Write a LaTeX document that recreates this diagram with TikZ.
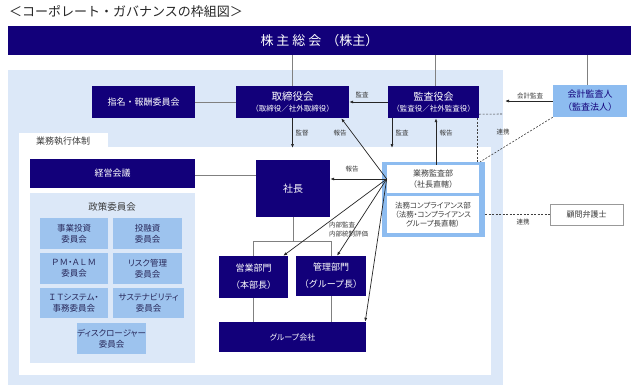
\documentclass[tikz,border=0pt]{standalone}
\usepackage{fontspec}
\setmainfont{Noto Sans CJK JP}
\newfontfamily\pf{Noto Sans CJK JP}[RawFeature=+palt]
\usetikzlibrary{arrows.meta}
\definecolor{navy}{RGB}{18,0,122}
\definecolor{lightbg}{RGB}{220,232,248}
\definecolor{comblue}{RGB}{157,195,238}
\definecolor{midblue}{RGB}{141,188,240}
\definecolor{comtext}{RGB}{40,40,90}
\definecolor{lblgray}{RGB}{60,60,60}
\tikzset{
  navybox/.style={fill=navy, text=white, inner sep=0pt, align=center},
  combox/.style={fill=comblue, text=comtext, inner sep=0pt, align=center, minimum height=31pt, font=\pf\fontsize{8.5}{11}\selectfont},
  whitebox/.style={fill=white, draw=gray!80, line width=0.6pt, text=lblgray, inner sep=0pt, align=center},
  lbl/.style={font=\fontsize{6.5}{8}\selectfont, text=lblgray, inner sep=0pt},
  gline/.style={draw=gray, line width=0.8pt},
  arr/.style={-{Latex[length=4pt,width=3pt]}, line width=0.7pt, draw=black!85},
  dline/.style={dashed, dash pattern=on 2pt off 1.5pt, draw=darkgray, line width=0.6pt},
}
\begin{document}
\begin{tikzpicture}[x=1pt,y=-1pt]
\useasboundingbox (0,0) rectangle (640,389);
% backgrounds
\fill[lightbg] (8,70) rectangle (503,385);
\fill[white] (19,133) rectangle (108,147);
\fill[white] (19,147) rectangle (491,375);
\node[font=\fontsize{9}{11}\selectfont, text=lblgray, inner sep=0pt] (gyomutai) at (63,141) {業務執行体制};
\fill[lightbg] (30,193) rectangle (195,363);
\node[font=\fontsize{9.5}{11}\selectfont, text=lblgray, inner sep=0pt] (seisaku) at (112,207) {政策委員会};
% title
\node[anchor=west, font=\fontsize{13}{15}\selectfont, inner sep=0pt, text=black!85] (title) at (9,12) {＜コーポレート・ガバナンスの枠組図＞};
% top bar
\node[navybox, minimum width=623pt, minimum height=29pt, font=\fontsize{13}{15}\selectfont] (bar) at (319.5,40.5) {株\hspace{3pt}主\hspace{3pt}総\hspace{3pt}会\hspace{5pt}（株主）};
% board level
\node[navybox, minimum width=103pt, minimum height=32pt, font=\fontsize{9}{11}\selectfont] (shimei) at (143.5,102) {指名・報酬委員会};
\node[navybox, minimum width=113pt, minimum height=32pt] (tori) at (292.5,102) {{\fontsize{10.5}{13}\selectfont 取締役会}\\[-1pt]{\fontsize{7.5}{10}\selectfont （取締役／社外取締役）}};
\node[navybox, minimum width=91pt, minimum height=32pt] (kansa) at (433.5,102) {{\fontsize{10}{13}\selectfont 監査役会}\\[-1pt]{\fontsize{7.5}{10}\selectfont （監査役／社外監査役）}};
\node[fill=midblue, text=navy, inner sep=0pt, align=center, minimum width=74pt, minimum height=32pt, font=\fontsize{9}{13}\selectfont] (kaikei) at (590,101) {会計監査人\\（監査法人）};
% execution
\node[navybox, minimum width=165pt, minimum height=29pt, font=\fontsize{9}{11}\selectfont] (keiei) at (112.5,173.5) {経営会議};
\node[navybox, minimum width=74pt, minimum height=57pt, font=\fontsize{10}{12}\selectfont] (shacho) at (293,188.5) {社長};
\node[navybox, minimum width=69pt, minimum height=42pt, font=\fontsize{9}{17}\selectfont] (eigyo) at (253.5,277) {営業部門\\（本部長）};
\node[navybox, minimum width=70pt, minimum height=40pt, font=\fontsize{9}{17}\selectfont] (kanri) at (331,276) {管理部門\\（グループ長）};
\node[navybox, minimum width=147pt, minimum height=30pt, font=\pf\fontsize{8}{10}\selectfont] (group) at (292.5,337) {グループ会社};
% committees
\node[combox, minimum width=68pt] (jigyo) at (74,233.5) {事業投資\\委員会};
\node[combox, minimum width=69pt] (yuushi) at (147.5,233.5) {投融資\\委員会};
\node[combox, minimum width=68pt] (pmalm) at (74,268.5) {Ｐ\,Ｍ・Ａ\,Ｌ\,Ｍ\\委員会};
\node[combox, minimum width=69pt] (risk) at (147.5,268.5) {リスク管理\\委員会};
\node[combox, minimum width=68pt, minimum height=30pt] (it) at (74,303) {Ｉ\,Ｔシステム・\\事務委員会};
\node[combox, minimum width=71pt, minimum height=30pt] (sustain) at (148.5,303) {サステナビリティ\\委員会};
\node[combox, minimum width=69pt] (disclo) at (111.5,338.5) {ディスクロージャー\\委員会};
% audit dept frame
\node[fill=midblue, inner sep=0pt, minimum width=103pt, minimum height=75pt] (frame) at (433.5,199.5) {};
\node[whitebox, draw=none, minimum width=92pt, minimum height=28pt, font=\fontsize{8}{11}\selectfont] (gyomu) at (433,179) {業務監査部\\（社長直轄）};
\node[whitebox, draw=none, minimum width=92pt, minimum height=37pt, font=\pf\fontsize{7.5}{9}\selectfont] (homu) at (433,214.5) {法務コンプライアンス部\\（法務・コンプライアンス\\グループ長直轄）};
\node[whitebox, minimum width=73pt, minimum height=21pt, font=\fontsize{8}{10}\selectfont] (komon) at (586.5,214.5) {顧問弁護士};
% gray connectors
\draw[gline] (tori.north |- bar.south) -- (tori.north);
\draw[gline] ([xshift=2pt]kansa.north |- bar.south) -- ([xshift=2pt]kansa.north);
\draw[gline] ([xshift=-3pt]kaikei.north |- bar.south) -- ([xshift=-3pt]kaikei.north);
\draw[gline] (shimei.east) -- (tori.west);
\draw[gline] ([yshift=-1.5pt]keiei.east) -- ([yshift=-1.5pt]shacho.west |- keiei.east);
\coordinate (tj) at (293,241);
\draw[gline] (shacho.south) -- (tj);
\draw[gline] (eigyo.north) -- (eigyo.north |- tj) -- (kanri.north |- tj) -- (kanri.north);
\draw[gline] (eigyo.south) -- (group.north -| eigyo.south);
\draw[gline] (kanri.south) -- (group.north -| kanri.south);
% arrows
\draw[arr] (kansa.west) -- (tori.east);
\node[lbl] (l1) at (362,95) {監査};
\coordinate (kaend) at (505,101);
\draw[arr] (kaikei.west) -- (kaend);
\node[lbl] (l2) at (530,96) {会計監査};
\coordinate (td) at (292.5,148);
\draw[arr] (tori.south) -- (td);
\node[lbl] (l3) at (302,133) {監督};
\coordinate (kd) at (392,148);
\draw[arr] (kansa.south -| kd) -- (kd);
\node[lbl] (l4) at (402,133) {監査};
\draw[arr] ([xshift=3pt]gyomu.north) -- ([xshift=3pt]gyomu.north |- kansa.south);
\node[lbl] (l5) at (446,133) {報告};
\draw[arr] (gyomu.west) -- ([xshift=-8pt]tori.south east);
\node[lbl] (l6) at (340,133) {報告};
\draw[arr] (gyomu.west) -- (shacho.east |- gyomu.west);
\node[lbl] (l7) at (352,169) {報告};
\draw[arr] (gyomu.west) -- ([xshift=-5pt]eigyo.north east);
\draw[arr] (gyomu.west) -- ([xshift=6pt]kanri.north);
\draw[arr] (gyomu.west) -- ([xshift=-1pt]group.north east);
\node[lbl, anchor=west, align=left, font=\fontsize{6.5}{8.5}\selectfont] (l8) at (329,229.5) {内部監査\\内部統制評価};
% dashed links
\coordinate (dk1) at (503,114);
\draw[dline] ([yshift=4pt]kansa.south east) -- (dk1);
\draw[dline] ([xshift=-2pt]kansa.south east) -- ([xshift=-2pt]kansa.south east |- frame.north);
\draw[dline] (kaikei.south west) -- ([xshift=-5pt]frame.north east);
\node[lbl] (l9) at (503,132) {連携};
\draw[dline] (frame.east |- homu.east) -- (komon.west);
\node[lbl] (l10) at (523,222) {連携};
\end{tikzpicture}
\end{document}
